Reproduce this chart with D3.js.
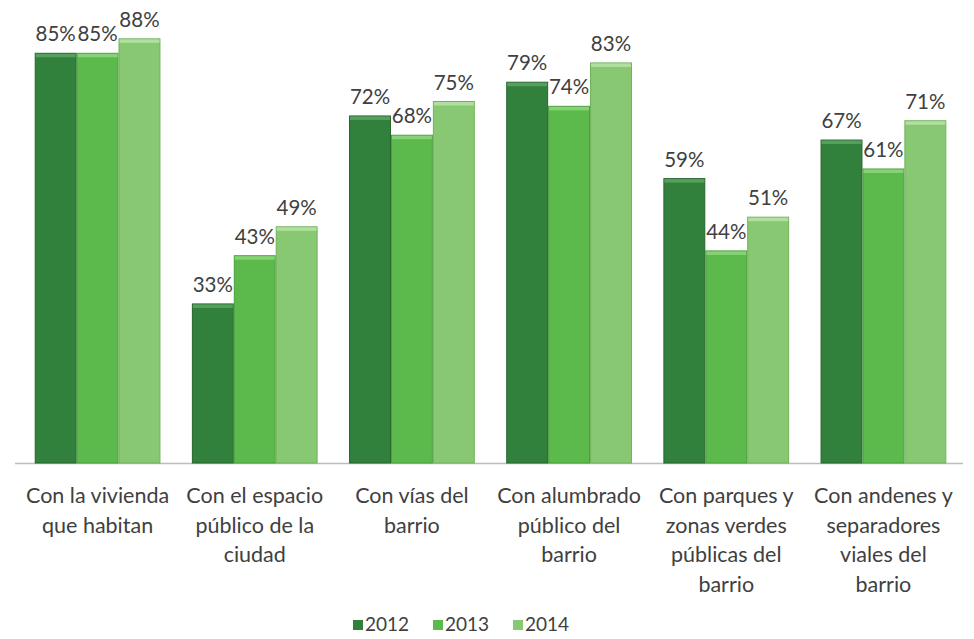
<!DOCTYPE html>
<html>
<head>
<meta charset="utf-8">
<script src="https://cdn.jsdelivr.net/npm/d3@7"></script>
<style>
  body { margin: 0; background: #fff; }
  text { font-family: Lato, "Open Sans", sans-serif; fill: #404040; }
</style>
</head>
<body>
<svg id="chart"></svg>
<script>
// categories (each label split in its lines) and the three years
var categories = ['vivienda', 'espacio', 'vias', 'alumbrado', 'parques', 'andenes'];
var categoryLines = [
  ['Con la vivienda', 'que habitan'],
  ['Con el espacio', 'público de la', 'ciudad'],
  ['Con vías del', 'barrio'],
  ['Con alumbrado', 'público del', 'barrio'],
  ['Con parques y', 'zonas verdes', 'públicas del', 'barrio'],
  ['Con andenes y', 'separadores', 'viales del', 'barrio']
];
var years = ['2012', '2013', '2014'];

// percentages
var values2012 = [85, 33, 72, 79, 59, 67];
var values2013 = [85, 43, 68, 74, 44, 61];
var values2014 = [88, 49, 75, 83, 51, 71];

var colors = ['#31803b', '#5cb94b', '#88c872'];
var edgeColors = ['#26652e', '#4a9e3d', '#6fb25b'];
var capColors = ['#56a05e', '#86d276', '#b0e09e'];

var width = 974;
var height = 639;
var baseY = 463;

var svg = d3.select('#chart')
    .attr('width', width)
    .attr('height', height);

var data = categories.map(function(c, i) {
  return {
    key: c,
    vals: [values2012[i], values2013[i], values2014[i]]
  };
});

var x0 = d3.scaleBand()
    .domain(categories)
    .range([19, 962])
    .paddingInner(0.2)
    .paddingOuter(0.1);

var x1 = d3.scaleBand()
    .domain(years)
    .range([0, x0.bandwidth()]);

var y = d3.scaleLinear()
    .domain([0, 100])
    .range([baseY, baseY - 482]);

// axis line
svg.append('line')
    .attr('x1', 15)
    .attr('x2', 963)
    .attr('y1', baseY + 0.5)
    .attr('y2', baseY + 0.5)
    .attr('stroke', '#bdbdbd')
    .attr('stroke-width', 1.5);

var groups = svg.append('g')
  .selectAll('g')
  .data(data)
  .enter()
  .append('g')
    .attr('transform', d => 'translate(' + x0(d.key) + ',0)');

var bars = groups.selectAll('g.bar')
  .data(d => d.vals.map((v, j) => ({year: years[j], j: j, v: v})))
  .enter()
  .append('g')
    .attr('class', 'bar');

bars.append('rect')
    .attr('x', d => x1(d.year) + 0.5)
    .attr('y', d => y(d.v))
    .attr('width', x1.bandwidth() - 1)
    .attr('height', d => baseY - y(d.v))
    .attr('fill', d => colors[d.j])
    .attr('stroke', d => edgeColors[d.j])
    .attr('stroke-width', 1);

// light cap on top of each bar
bars.append('rect')
    .attr('x', d => x1(d.year) + 1)
    .attr('y', d => y(d.v) + 0.5)
    .attr('width', x1.bandwidth() - 2)
    .attr('height', 3.5)
    .attr('fill', d => capColors[d.j]);

// value labels
bars.append('text')
    .attr('x', d => x1(d.year) + x1.bandwidth() / 2)
    .attr('y', d => y(d.v) - 12)
    .attr('text-anchor', 'middle')
    .style('font-size', '20.5px')
    .text(d => d.v + '%');

// category labels
var xAxis = d3.axisBottom(x0).tickSize(0).tickFormat('');
var axisG = svg.append('g')
    .attr('transform', 'translate(0,' + baseY + ')')
    .call(xAxis);
axisG.select('.domain').remove();

axisG.selectAll('.tick text').each(function(d, i) {
  var t = d3.select(this)
      .attr('y', 0)
      .attr('dy', null)
      .style('font-size', '21.5px')
      .attr('fill', '#404040');
  categoryLines[i].forEach(function(line, k) {
    t.append('tspan')
        .attr('x', 0)
        .attr('y', 40 + k * 29.5)
        .text(line);
  });
});

// legend
var legend = svg.append('g')
    .attr('transform', 'translate(353,615)');

var item = legend.selectAll('g')
  .data(years)
  .enter()
  .append('g')
    .attr('transform', (d, i) => 'translate(' + i * 80 + ',0)');

item.append('rect')
    .attr('width', 10)
    .attr('height', 10)
    .attr('y', 5)
    .attr('fill', (d, i) => colors[i]);

item.append('text')
    .attr('x', 12)
    .attr('y', 16)
    .style('font-size', '19px')
    .text(d => d);
</script>
</body>
</html>
